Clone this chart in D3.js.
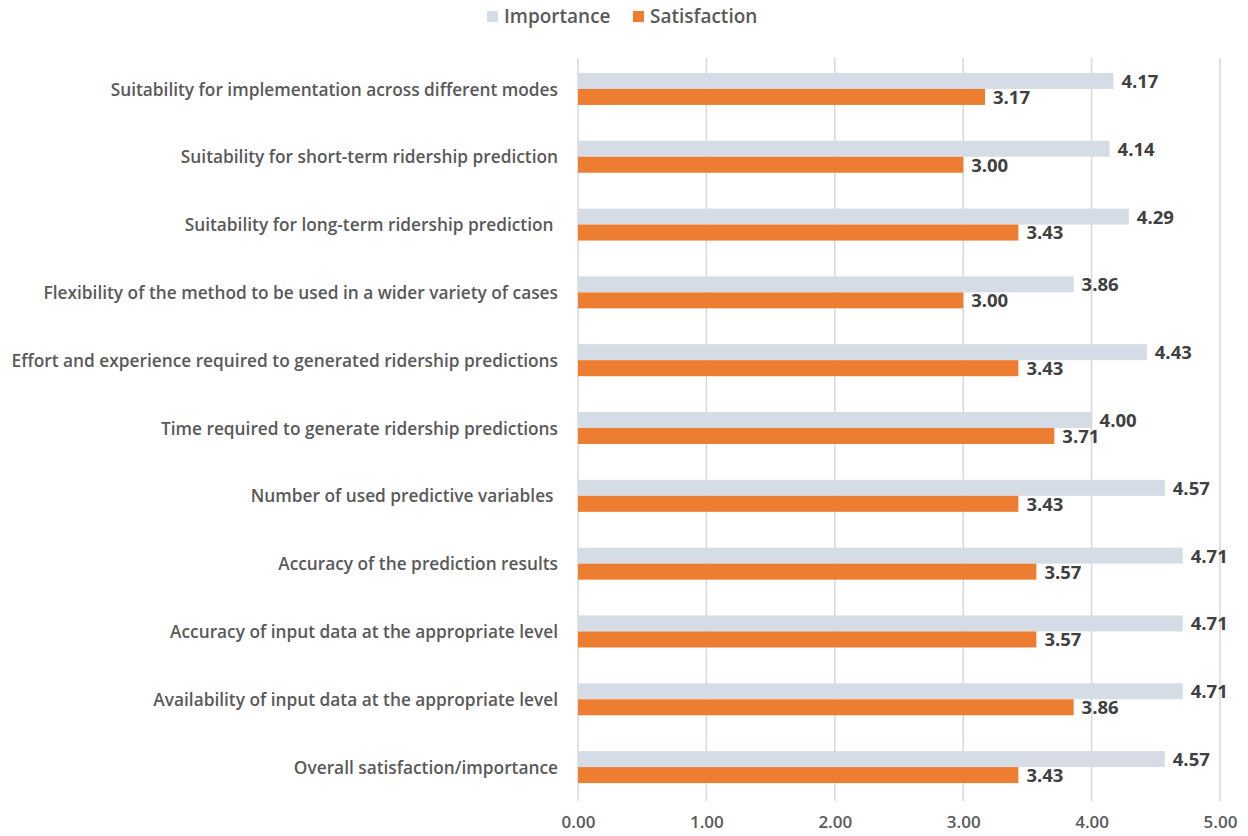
<!DOCTYPE html>
<html>
<head>
<meta charset="utf-8">
<script src="https://cdn.jsdelivr.net/npm/d3@7"></script>
<style>
  html, body { margin: 0; padding: 0; background: #fff; }
  svg { display: block; font-family: "Open Sans", Lato, "Liberation Sans", sans-serif; }
</style>
</head>
<body>
<svg id="chart" width="1248" height="836"></svg>
<script>
// Survey attributes, top to bottom
const categories = [
  "Suitability for implementation across different modes",
  "Suitability for short-term ridership prediction",
  "Suitability for long-term ridership prediction ",
  "Flexibility of the method to be used in a wider variety of cases",
  "Effort and experience required to generated ridership predictions",
  "Time required to generate ridership predictions",
  "Number of used predictive variables ",
  "Accuracy of the prediction results",
  "Accuracy of input data at the appropriate level",
  "Availability of input data at the appropriate level",
  "Overall satisfaction/importance"
];
const importance   = [4.17, 4.14, 4.29, 3.86, 4.43, 4.00, 4.57, 4.71, 4.71, 4.71, 4.57];
const satisfaction = [3.17, 3.00, 3.43, 3.00, 3.43, 3.71, 3.43, 3.57, 3.57, 3.86, 3.43];
const seriesNames = ["Importance", "Satisfaction"];
const xTicks = [0, 1, 2, 3, 4, 5];

const colors = { Importance: "#D6DCE5", Satisfaction: "#ED7D31" };
const textColor = "#595959";
const valueColor = "#404040";

const svg = d3.select("#chart");
const margin = { left: 578, right: 28, top: 55, bottom: 35 };
const W = 1248, H = 836;

const x = d3.scaleLinear().domain([0, 5]).range([margin.left, W - margin.right]);
const y = d3.scaleBand().domain(categories).range([margin.top, H - margin.bottom]).paddingInner(0.528).paddingOuter(0.264);
const sub = d3.scaleBand().domain(seriesNames).range([0, y.bandwidth()]);

// vertical gridlines
svg.append("g").selectAll("line").data(xTicks).join("line")
  .attr("x1", d => x(d)).attr("x2", d => x(d))
  .attr("y1", 58).attr("y2", 801)
  .attr("stroke", "#D9D9D9").attr("stroke-width", 1.5);

// x axis labels
const xAxis = d3.axisBottom(x).tickValues(xTicks).tickFormat(d3.format(".2f")).tickSize(0).tickPadding(0);
const gx = svg.append("g").attr("transform", `translate(0, 816)`).call(xAxis);
gx.select(".domain").remove();
gx.selectAll("text")
  .attr("fill", textColor).attr("font-size", 17).attr("font-weight", 600)
  .attr("font-family", "'Open Sans', Lato, sans-serif");

const rows = categories.map((c, i) => ({ cat: c, Importance: importance[i], Satisfaction: satisfaction[i] }));

const groups = svg.append("g").selectAll("g").data(rows).join("g")
  .attr("transform", d => `translate(0, ${y(d.cat)})`);

seriesNames.forEach(s => {
  groups.append("rect")
    .attr("x", x(0))
    .attr("y", sub(s))
    .attr("width", d => x(d[s]) - x(0))
    .attr("height", sub.bandwidth())
    .attr("fill", colors[s]);
  groups.append("text")
    .attr("x", d => x(d[s]) + 8)
    .attr("y", sub(s) + sub.bandwidth() / 2 + 2)
    .attr("dominant-baseline", "middle")
    .attr("fill", valueColor).attr("font-size", 18.5).attr("font-weight", "bold")
    .text(d => d3.format(".2f")(d[s]));
});

// category labels
groups.append("text")
  .attr("x", 558)
  .attr("y", y.bandwidth() / 2 + 2)
  .attr("text-anchor", "end")
  .attr("dominant-baseline", "middle")
  .attr("fill", textColor).attr("font-size", 17.3).attr("font-weight", 600)
  .attr("xml:space", "preserve")
  .text(d => d.cat);

// legend
const legend = svg.append("g").attr("transform", "translate(0, 17)");
const legendX = { Importance: 487, Satisfaction: 633 };
seriesNames.forEach(s => {
  legend.append("rect").attr("x", legendX[s]).attr("y", -6).attr("width", 11).attr("height", 11).attr("fill", colors[s]);
  legend.append("text").attr("x", legendX[s] + 17).attr("y", 1)
    .attr("dominant-baseline", "middle")
    .attr("fill", textColor).attr("font-size", 19).attr("font-weight", 600)
    .text(s);
});
</script>
</body>
</html>
